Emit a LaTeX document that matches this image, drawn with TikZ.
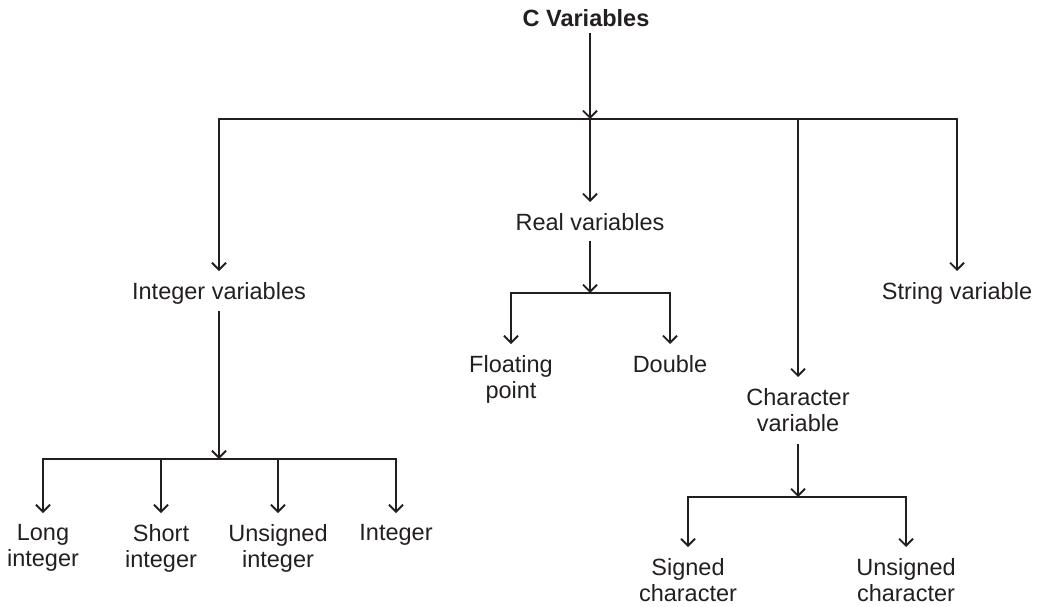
\documentclass[tikz,border=0pt]{standalone}
\usepackage{fontspec}
\setmainfont{Liberation Sans}
\usetikzlibrary{arrows.meta}
\definecolor{ink}{RGB}{35,31,32}
\begin{document}
\begin{tikzpicture}[x=1pt,y=-1pt,
  lbl/.style={font=\fontsize{23.5}{26}\selectfont, text=ink, inner sep=0pt, align=center, anchor=north},
  conn/.style={draw=ink, line width=1.3pt},
  arr/.style={conn, -{Straight Barb[length=7pt,width=14pt,line width=1.8pt]}, shorten >=11pt},
  tojn/.style={conn, -{Straight Barb[length=7pt,width=14pt,line width=1.8pt]}},
]
\useasboundingbox (0,0) rectangle (1040,606);

% nodes
\node[lbl, anchor=center, font=\bfseries\fontsize{23.5}{26}\selectfont] (cv) at (586,18) {C Variables};
\node[lbl] (rv) at (590,213) {Real variables};
\node[lbl] (iv) at (219,282) {Integer variables};
\node[lbl] (sv) at (957,282) {String variable};
\node[lbl] (chv) at (798,388) {Character\\variable};
\node[lbl] (fp) at (511,355) {Floating\\point};
\node[lbl] (db) at (670,355) {Double};
\node[lbl] (li) at (43,524) {Long\\integer};
\node[lbl] (si) at (161,524) {Short\\integer};
\node[lbl] (ui) at (278,524) {Unsigned\\integer};
\node[lbl] (ig) at (396,524) {Integer};
\node[lbl] (sc) at (688,558) {Signed\\character};
\node[lbl] (uc) at (906,558) {Unsigned\\character};

% junctions
\coordinate (j0) at (590,119);
\coordinate (jr) at (590,293);
\coordinate (ji) at (219,459);
\coordinate (jc) at (798,497);

% top level
\draw[tojn, shorten <=6pt] (cv.south -| j0) -- (j0);
\draw[arr] (j0) -| (iv.north);
\draw[arr] (j0) -- (rv.north);
\draw[arr] (j0) -| (chv.north);
\draw[arr] (j0) -| (sv.north);

% real variables
\draw[tojn, shorten <=10pt] (rv.south) -- (jr);
\draw[arr] (jr) -| (fp.north);
\draw[arr] (jr) -| (db.north);

% integer variables
\draw[tojn, shorten <=7pt] (iv.south) -- (ji);
\draw[arr] (ji) -| (li.north);
\draw[arr] (ji) -| (si.north);
\draw[arr] (ji) -| (ui.north);
\draw[arr] (ji) -| (ig.north);

% character variable
\draw[tojn, shorten <=12pt] (chv.south) -- (jc);
\draw[arr] (jc) -| (sc.north);
\draw[arr] (jc) -| (uc.north);
\end{tikzpicture}
\end{document}
